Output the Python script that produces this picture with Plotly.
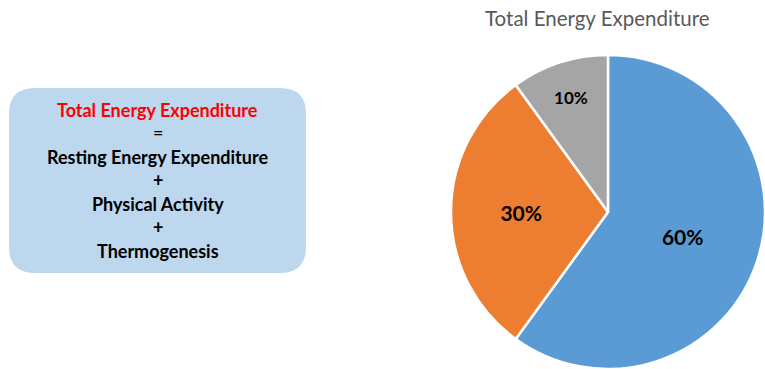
import plotly.graph_objects as go

W, H = 765, 369

# Data
slice_labels = ["Resting Energy Expenditure", "Physical Activity", "Thermogenesis"]
slice_values = [60, 30, 10]
slice_colors = ["#5B9BD5", "#ED7D31", "#A5A5A5"]
slice_font_sizes = [21, 21, 17]

chart_title = "Total Energy Expenditure"
box_lines = ["Total Energy Expenditure", "=", "Resting Energy Expenditure", "+",
             "Physical Activity", "+", "Thermogenesis"]
box_line_colors = ["#FF0000", "#000000", "#000000", "#000000", "#000000", "#000000", "#000000"]
box_line_bold = [True, False, True, True, True, True, True]

fig = go.Figure()

fig.add_trace(go.Pie(
    labels=slice_labels,
    values=slice_values,
    sort=False,
    direction="clockwise",
    rotation=0,
    marker=dict(colors=slice_colors, line=dict(color="white", width=2.5)),
    textinfo="percent",
    texttemplate="<b>%{percent:.0%}</b>",
    textposition="inside",
    insidetextorientation="horizontal",
    textfont=dict(family="Lato", size=slice_font_sizes, color="black"),
    domain=dict(x=[451 / W, 1.0], y=[0.0, 314 / H]),
    showlegend=False,
    hoverinfo="label+percent",
))

# Rounded box (pixel coordinates via hidden axes)
x0, x1, y0, y1, r = 9, 306, 88, 273, 26
path = (f"M {x0+r},{y0} L {x1-r},{y0} Q {x1},{y0} {x1},{y0+r} "
        f"L {x1},{y1-r} Q {x1},{y1} {x1-r},{y1} L {x0+r},{y1} "
        f"Q {x0},{y1} {x0},{y1-r} L {x0},{y0+r} Q {x0},{y0} {x0+r},{y0} Z")
fig.add_shape(type="path", path=path, xref="x", yref="y",
              fillcolor="#BDD7EE", line=dict(width=0), layer="below")

line_y = [110, 132, 157, 180, 204, 227, 251]
annotations = []
for txt, col, b, yy in zip(box_lines, box_line_colors, box_line_bold, line_y):
    annotations.append(dict(
        x=157.5, y=yy, xref="x", yref="y", showarrow=False,
        text=f"<b>{txt}</b>" if b else txt,
        font=dict(family="Lato", size=18, color=col),
        xanchor="center", yanchor="middle",
    ))
annotations.append(dict(
    x=597, y=18, xref="x", yref="y", showarrow=False,
    text=chart_title, font=dict(family="Lato", size=20.5, color="#595959"),
    xanchor="center", yanchor="middle",
))

fig.update_layout(
    width=W, height=H,
    margin=dict(l=0, r=0, t=0, b=0),
    paper_bgcolor="white", plot_bgcolor="white",
    xaxis=dict(range=[0, W], visible=False, fixedrange=True, domain=[0, 1]),
    yaxis=dict(range=[H, 0], visible=False, fixedrange=True, domain=[0, 1]),
    annotations=annotations,
)

fig.write_html("out.html")
